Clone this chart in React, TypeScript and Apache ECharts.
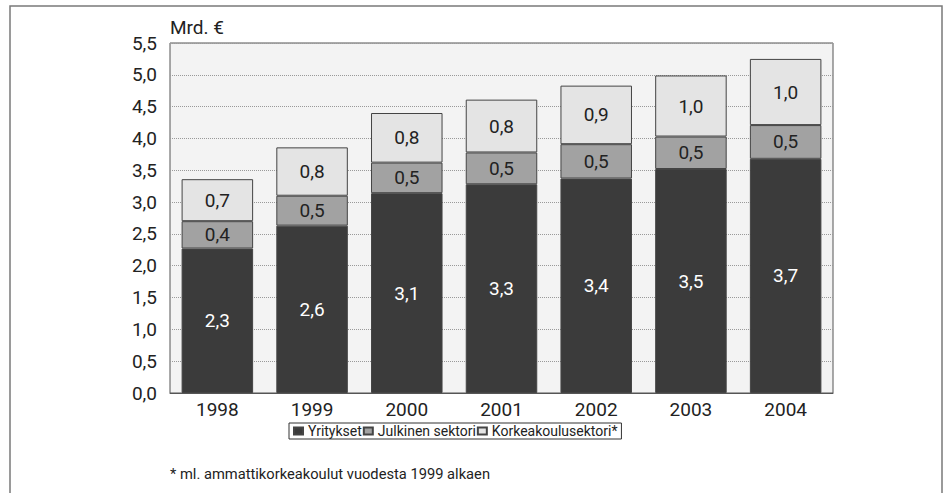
import React, { useEffect, useRef } from "react";
import * as echarts from "echarts";

const years = ["1998", "1999", "2000", "2001", "2002", "2003", "2004"];
const yritykset = [2.27, 2.63, 3.14, 3.28, 3.37, 3.52, 3.68];
const julkinen = [0.43, 0.47, 0.48, 0.5, 0.54, 0.51, 0.53];
const korkeakoulu = [0.66, 0.76, 0.78, 0.83, 0.92, 0.96, 1.04];
const seriesNames = ["Yritykset", "Julkinen sektori", "Korkeakoulusektori*"];
const unitLabel = "Mrd. €";
const footnote = "* ml. ammattikorkeakoulut vuodesta 1999 alkaen";

const FONT = "Roboto, 'Liberation Sans', sans-serif";
const fmt = (v: number) => v.toFixed(1).replace(".", ",");

export default function App() {
  const ref = useRef<HTMLDivElement>(null);
  useEffect(() => {
    if (!ref.current) return;
    const chart = echarts.init(ref.current, undefined, { renderer: "svg" });
    const label = (color: string) => ({
      show: true,
      position: "inside" as const,
      color,
      fontSize: 19,
      fontFamily: FONT,
      formatter: (p: any) => fmt(p.value),
    });
    const colors = ["#3b3b3b", "#a2a2a2", "#e4e4e4"];
    const datas = [yritykset, julkinen, korkeakoulu];
    chart.setOption({
      animation: false,
      backgroundColor: "#ffffff",
      textStyle: { fontFamily: FONT },
      grid: {
        left: 170,
        top: 43,
        right: 114,
        bottom: 100,
        show: true,
        backgroundColor: "#f3f3f3",
        borderColor: "#555555",
        borderWidth: 1,
      },
      legend: {
        left: 289,
        top: 423,
        icon: "rect",
        itemWidth: 9,
        itemHeight: 7,
        itemGap: 1,
        padding: [1, 4, 1, 4],
        borderColor: "#333333",
        borderWidth: 1,
        textStyle: { fontSize: 14, fontFamily: FONT, color: "#222222" },
        data: seriesNames,
      },
      xAxis: {
        type: "category",
        data: years,
        axisTick: { show: false },
        axisLine: { show: true, lineStyle: { color: "#555555" } },
        axisLabel: { fontSize: 19, fontFamily: FONT, color: "#222222", margin: 7 },
      },
      yAxis: {
        type: "value",
        min: 0,
        max: 5.5,
        interval: 0.5,
        axisLine: { show: false },
        axisTick: { show: false },
        axisLabel: {
          fontSize: 19,
          fontFamily: FONT,
          color: "#222222",
          margin: 13,
          formatter: (v: number) => fmt(v),
        },
        splitLine: { show: true, lineStyle: { color: "#999999", type: "dotted", width: 1 } },
      },
      series: seriesNames.map((name, i) => ({
        name,
        type: "bar",
        stack: "total",
        barWidth: "75.5%",
        data: datas[i],
        itemStyle: { color: colors[i], borderColor: "#444444", borderWidth: 1 },
        label: label(i === 0 ? "#ffffff" : "#222222"),
      })),
      graphic: [
        {
          type: "polyline",
          shape: { points: [[10, 493], [10, 6], [942, 6], [942, 493]] },
          style: { stroke: "#7a7a7a", lineWidth: 1.5, fill: "none" },
          silent: true,
        },
        {
          type: "text",
          left: 170,
          top: 18,
          style: { text: unitLabel, fontSize: 19, fontFamily: FONT, fill: "#222222" },
        },
        {
          type: "text",
          left: 170,
          top: 466,
          style: { text: footnote, fontSize: 14.7, fontFamily: FONT, fill: "#222222" },
        },
      ],
    });
    return () => chart.dispose();
  }, []);
  return (
    <div
      ref={ref}
      style={{ position: "fixed", left: 0, top: 0, width: 947, height: 493 }}
    />
  );
}
